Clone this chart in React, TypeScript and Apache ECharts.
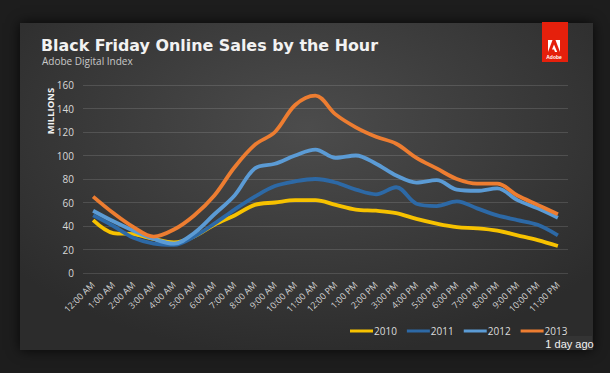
import React, { useEffect, useRef } from "react";
import * as echarts from "echarts";

const hours = [
  "12:00 AM", "1:00 AM", "2:00 AM", "3:00 AM", "4:00 AM", "5:00 AM",
  "6:00 AM", "7:00 AM", "8:00 AM", "9:00 AM", "10:00 AM", "11:00 AM",
  "12:00 PM", "1:00 PM", "2:00 PM", "3:00 PM", "4:00 PM", "5:00 PM",
  "6:00 PM", "7:00 PM", "8:00 PM", "9:00 PM", "10:00 PM", "11:00 PM",
];
const sales2010 = [45, 34, 33, 29, 26, 31, 41, 49, 58, 60, 62, 62, 58, 54, 53, 51, 46, 42, 39, 38, 36, 32, 28, 23];
const sales2011 = [49, 40, 30, 25, 24, 31, 42, 54, 65, 74, 78, 80, 77, 71, 67, 73, 59, 57, 61, 55, 49, 45, 41, 32];
const sales2012 = [53, 44, 36, 29, 25, 34, 50, 66, 89, 93, 100, 105, 98, 100, 93, 83, 77, 79, 71, 70, 72, 62, 55, 47];
const sales2013 = [65, 51, 39, 31, 37, 49, 66, 90, 109, 120, 143, 151, 135, 124, 116, 110, 98, 89, 80, 76, 76, 66, 58, 50];
const seriesNames = ["2010", "2011", "2012", "2013"];
const seriesColors = ["#f7c200", "#2d69a6", "#5b9bd5", "#ed7d31"];
const yTicks = { min: 0, max: 160, interval: 20 };

export default function App() {
  const ref = useRef<HTMLDivElement>(null);
  useEffect(() => {
    if (!ref.current) return;
    const chart = echarts.init(ref.current, undefined, { renderer: "svg" });
    const data = [sales2010, sales2011, sales2012, sales2013];
    chart.setOption({
      animation: false,
      backgroundColor: "transparent",
      title: [
        {
          text: "Black Friday Online Sales by the Hour",
          left: 41,
          top: 37,
          padding: 0,
          textStyle: { color: "#f2f2f2", fontFamily: "DejaVu Sans", fontWeight: "bold", fontSize: 15.9 },
        },
        {
          text: "Adobe Digital Index",
          left: 42,
          top: 56,
          padding: 0,
          textStyle: { color: "#c8c8c8", fontFamily: "Open Sans", fontWeight: "normal", fontSize: 10 },
        },
      ],
      legend: {
        data: seriesNames,
        left: 350,
        top: 326,
        icon: "rect",
        itemWidth: 23,
        itemHeight: 3,
        itemGap: 10,
        padding: 0,
        textStyle: { color: "#dcdcdc", fontFamily: "Open Sans", fontSize: 10, padding: [0, 0, 0, -4] },
      },
      grid: { left: 83, right: 42, top: 85, bottom: 100, containLabel: false },
      xAxis: {
        type: "category",
        data: hours,
        boundaryGap: true,
        axisLine: { show: false },
        axisTick: { show: false },
        axisLabel: {
          rotate: 45,
          interval: 0,
          margin: 10,
          color: "#d2d2d2",
          fontFamily: "Open Sans",
          fontSize: 9,
        },
      },
      yAxis: {
        type: "value",
        min: yTicks.min,
        max: yTicks.max,
        interval: yTicks.interval,
        axisLine: { show: false },
        axisTick: { show: false },
        axisLabel: { color: "#d8d8d8", fontFamily: "Open Sans", fontSize: 10, margin: 9 },
        splitLine: { lineStyle: { color: "rgba(255,255,255,0.13)", width: 1 } },
      },
      series: seriesNames.map((name, i) => ({
        name,
        type: "line",
        data: data[i],
        smooth: 0.35,
        symbol: "none",
        lineStyle: { color: seriesColors[i], width: 3.8 },
        itemStyle: { color: seriesColors[i] },
      })),
      graphic: [
        {
          type: "text",
          x: 50,
          y: 111,
          rotation: Math.PI / 2,
          style: {
            text: "MILLIONS",
            fill: "#f0f0f0",
            font: "bold 9.5px 'Open Sans'",
            align: "center",
            verticalAlign: "middle",
          },
        },
        {
          type: "group",
          z: 100,
          children: [
            { type: "rect", shape: { x: 542, y: 22, width: 26, height: 40 }, style: { fill: "#e5200c" } },
            { type: "polygon", shape: { points: [[548, 40], [552.5, 40], [548, 52]] }, style: { fill: "#fff" } },
            { type: "polygon", shape: { points: [[555.5, 40], [560, 40], [560, 52]] }, style: { fill: "#fff" } },
            { type: "polygon", shape: { points: [[554, 44.5], [557.2, 52], [555, 52], [554, 49.5], [552, 49.5]] }, style: { fill: "#fff" } },
            { type: "text", x: 554, y: 56.5, style: { text: "Adobe", fill: "#fff", font: "bold 5px 'Liberation Sans'", align: "center", verticalAlign: "middle" } },
          ],
        },
        {
          type: "group",
          z: 100,
          children: [
            { type: "rect", shape: { x: 547, y: 336, width: 45, height: 14 }, style: { fill: "#343434" } },
            { type: "text", x: 569.5, y: 343.5, style: { text: "1 day ago", fill: "#f2f2f2", font: "11px 'Liberation Sans'", align: "center", verticalAlign: "middle" } },
          ],
        },
      ],
    });
    return () => chart.dispose();
  }, []);

  return (
    <div style={{ position: "fixed", left: 0, top: 0, width: 610, height: 373, background: "#1d1d1d", overflow: "hidden" }}>
      <div
        style={{
          position: "absolute",
          left: 20,
          top: 23,
          width: 573,
          height: 327,
          background: "radial-gradient(ellipse 65% 70% at 50% 32%, #4c4c4c 0%, #3c3c3c 50%, #2c2c2c 100%)",
          boxShadow: "0 0 12px rgba(0,0,0,0.8)",
        }}
      />
      <div ref={ref} style={{ position: "absolute", left: 0, top: 0, width: 610, height: 373 }} />
    </div>
  );
}
